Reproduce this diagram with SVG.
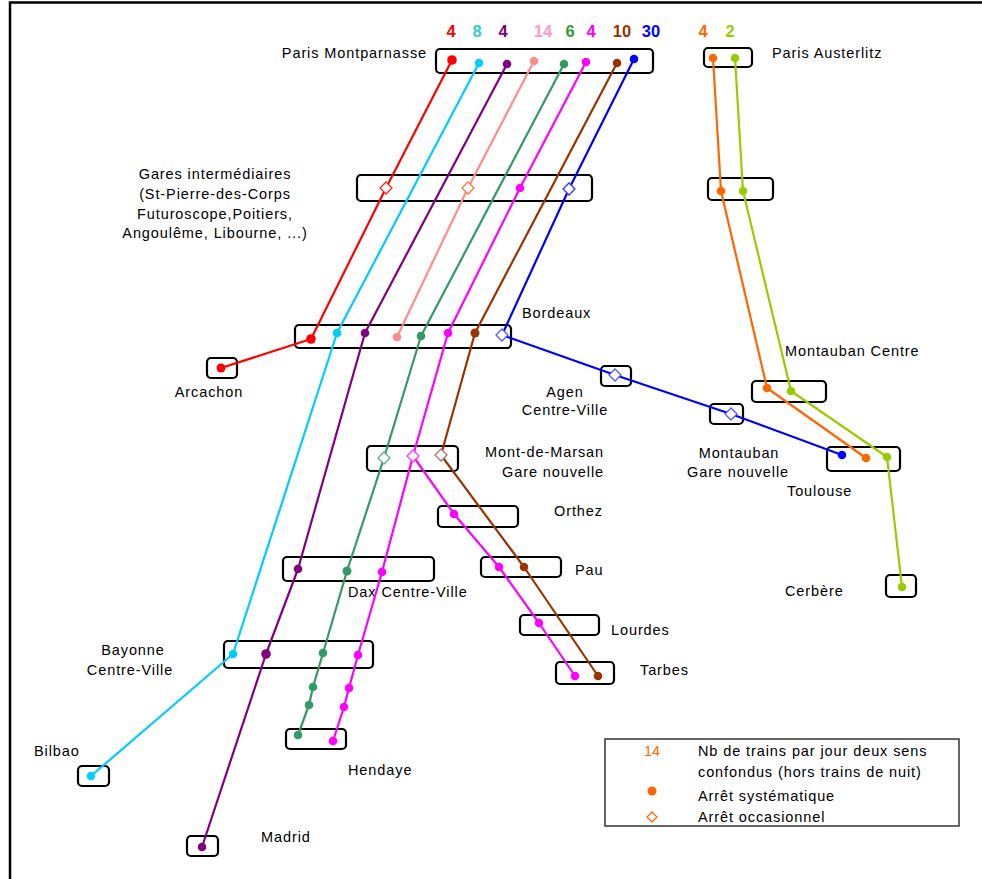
<svg xmlns="http://www.w3.org/2000/svg" xmlns:xlink="http://www.w3.org/1999/xlink" width="982" height="879" viewBox="0 0 982 879">
<style>
text{font-family:"Liberation Sans",Arial,sans-serif;font-size:14.5px;letter-spacing:0.9px}
.num{font-weight:bold;font-size:16.5px;letter-spacing:0;text-anchor:middle}
.box{fill:none;stroke:#000;stroke-width:2.2}
.ln{fill:none;stroke-width:2.2;stroke-linejoin:round}
.dia{fill:#fff;stroke-width:1.3}
.mid{text-anchor:middle}
.end{text-anchor:end}
</style>
<defs>
<path id="dia" d="M0,-6 L6,0 L0,6 L-6,0Z"/>
</defs>
<rect width="982" height="879" fill="#fff"/>
<path d="M10,879 V2.5 H982" fill="none" stroke="#000" stroke-width="2.5"/>

<g id="counts">
<text class="num" x="451" y="37" fill="#ff0000">4</text>
<text class="num" x="477" y="37" fill="#33cccc">8</text>
<text class="num" x="503" y="37" fill="#800080">4</text>
<text class="num" x="543" y="37" fill="#ff99cc">14</text>
<text class="num" x="570" y="37" fill="#339933">6</text>
<text class="num" x="591" y="37" fill="#ff00ff">4</text>
<text class="num" x="622" y="37" fill="#993300">10</text>
<text class="num" x="651" y="37" fill="#0000ff">30</text>
<text class="num" x="703" y="37" fill="#ff6600">4</text>
<text class="num" x="730" y="37" fill="#99cc00">2</text>
</g>

<g id="n-montparnasse"><rect class="box" x="436" y="49" width="217" height="24" rx="4"/><text class="end" x="427" y="58">Paris Montparnasse</text></g>
<g id="n-austerlitz"><rect class="box" x="704" y="48" width="48" height="19" rx="4"/><text x="772" y="58">Paris Austerlitz</text></g>
<g id="n-gares"><rect class="box" x="357" y="175" width="235" height="26" rx="4"/>
<text class="mid" x="215" y="179">Gares intermédiaires</text>
<text class="mid" x="215" y="199">(St-Pierre-des-Corps</text>
<text class="mid" x="215" y="218.5">Futuroscope,Poitiers,</text>
<text class="mid" x="215" y="238">Angoulême, Libourne, ...)</text></g>
<g id="n-austerlitz-inter"><rect class="box" x="708" y="178" width="65" height="22" rx="4"/></g>
<g id="n-bordeaux"><rect class="box" x="295" y="325" width="216" height="23" rx="4"/><text x="522" y="318">Bordeaux</text></g>
<g id="n-arcachon"><rect class="box" x="207" y="358" width="30" height="20" rx="4"/><text class="mid" x="209" y="397">Arcachon</text></g>
<g id="n-agen"><rect class="box" x="601" y="366" width="30" height="20" rx="4"/><text class="mid" x="565" y="397">Agen</text><text class="mid" x="565" y="415">Centre-Ville</text></g>
<g id="n-montauban-gn"><rect class="box" x="710" y="404" width="33" height="20" rx="4"/><text class="mid" x="739" y="458">Montauban</text><text class="mid" x="738" y="477">Gare nouvelle</text></g>
<g id="n-montauban-centre"><rect class="box" x="752" y="381" width="74" height="21" rx="4"/><text x="785" y="356">Montauban Centre</text></g>
<g id="n-toulouse"><rect class="box" x="827" y="447" width="73" height="24" rx="4"/><text x="787" y="496">Toulouse</text></g>
<g id="n-cerbere"><rect class="box" x="886" y="575" width="30" height="22" rx="4"/><text x="785" y="596">Cerbère</text></g>
<g id="n-montdemarsan"><rect class="box" x="367" y="446" width="91" height="25" rx="4"/><text class="end" x="604" y="457">Mont-de-Marsan</text><text class="end" x="604" y="477">Gare nouvelle</text></g>
<g id="n-orthez"><rect class="box" x="438" y="506" width="80" height="21" rx="4"/><text x="554" y="516">Orthez</text></g>
<g id="n-pau"><rect class="box" x="481" y="557" width="80" height="20" rx="4"/><text x="575" y="575">Pau</text></g>
<g id="n-lourdes"><rect class="box" x="520" y="615" width="79" height="20" rx="4"/><text x="611" y="635">Lourdes</text></g>
<g id="n-tarbes"><rect class="box" x="556" y="662" width="58" height="22" rx="4"/><text x="640" y="675">Tarbes</text></g>
<g id="n-dax"><rect class="box" x="283" y="557" width="151" height="24" rx="4"/><text x="348" y="597">Dax Centre-Ville</text></g>
<g id="n-bayonne"><rect class="box" x="224" y="641" width="149" height="27" rx="4"/><text class="mid" x="133" y="655">Bayonne</text><text class="mid" x="130" y="675">Centre-Ville</text></g>
<g id="n-hendaye"><rect class="box" x="286" y="729" width="60" height="20" rx="4"/><text x="348" y="775">Hendaye</text></g>
<g id="n-bilbao"><rect class="box" x="78" y="766" width="31" height="20" rx="4"/><text x="34" y="756">Bilbao</text></g>
<g id="n-madrid"><rect class="box" x="187" y="836" width="31" height="20" rx="4"/><text x="261" y="842">Madrid</text></g>

<g id="connectors">
<polyline class="ln" stroke="#ff0000" points="452,60 386,188 311,339 221,368"/>
<polyline class="ln" stroke="#00ccff" points="479,63 337,333 233,654 91,776"/>
<polyline class="ln" stroke="#800080" points="507,64 365,333 298,569 266,654 202,847"/>
<polyline class="ln" stroke="#ff8c8c" points="534,61 468,188 397,337"/>
<polyline class="ln" stroke="#339966" points="564,64 421,336 384,458 347,571 323,653 313,687 309,705 298,735"/>
<polyline class="ln" stroke="#ff00ff" points="586,62 520,188 448,333 413,456 382,572 358,655 349,688 344,707 333,741"/>
<polyline class="ln" stroke="#ff00ff" points="413,456 454,514 499,567 539,623 575,676"/>
<polyline class="ln" stroke="#993300" points="617,63 475,333 441,455 524,567 598,676"/>
<polyline class="ln" stroke="#0000ff" points="634,59 569,189 502,335 615,375 731,414 842,455"/>
<polyline class="ln" stroke="#ff6600" points="713,58 721,191 767,388 866,458"/>
<polyline class="ln" stroke="#99cc00" points="735,58 743,191 791,391 887,457 902,587"/>
</g>

<g id="stops">
<g fill="#ff0000"><circle cx="452" cy="60" r="4.8"/><circle cx="311" cy="339" r="4.8"/><circle cx="221" cy="368" r="4.5"/></g>
<g fill="#00ccff"><circle cx="479" cy="63" r="4.3"/><circle cx="337" cy="333" r="4.3"/><circle cx="233" cy="654" r="4.3"/><circle cx="91" cy="776" r="4.3"/></g>
<g fill="#800080"><circle cx="507" cy="64" r="4.3"/><circle cx="365" cy="333" r="4.3"/><circle cx="298" cy="569" r="4.3"/><circle cx="266" cy="654" r="4.8"/><circle cx="202" cy="847" r="4.3"/></g>
<g fill="#ff8c8c"><circle cx="534" cy="61" r="4.3"/><circle cx="397" cy="337" r="4.3"/></g>
<g fill="#339966"><circle cx="564" cy="64" r="4.3"/><circle cx="421" cy="336" r="4.3"/><circle cx="347" cy="571" r="4.5"/><circle cx="323" cy="653" r="4.3"/><circle cx="313" cy="687" r="4.3"/><circle cx="309" cy="705" r="4.3"/><circle cx="298" cy="735" r="4.3"/></g>
<g fill="#ff00ff"><circle cx="586" cy="62" r="4.3"/><circle cx="520" cy="188" r="4.3"/><circle cx="448" cy="333" r="4.3"/><circle cx="382" cy="572" r="4.3"/><circle cx="358" cy="655" r="4.3"/><circle cx="349" cy="688" r="4.3"/><circle cx="344" cy="707" r="4.3"/><circle cx="333" cy="741" r="4.3"/><circle cx="454" cy="514" r="4.3"/><circle cx="499" cy="567" r="4.3"/><circle cx="539" cy="623" r="4.3"/><circle cx="575" cy="676" r="4.3"/></g>
<g fill="#993300"><circle cx="617" cy="63" r="4.3"/><circle cx="475" cy="333" r="4.5"/><circle cx="524" cy="567" r="4.3"/><circle cx="598" cy="676" r="4.3"/></g>
<g fill="#0000ff"><circle cx="634" cy="59" r="4.3"/><circle cx="842" cy="455" r="4.3"/></g>
<g fill="#ff6600"><circle cx="713" cy="58" r="4.3"/><circle cx="721" cy="191" r="4.3"/><circle cx="767" cy="388" r="4.3"/><circle cx="866" cy="458" r="4.3"/></g>
<g fill="#99cc00"><circle cx="735" cy="58" r="4.3"/><circle cx="743" cy="191" r="4.3"/><circle cx="791" cy="391" r="4.3"/><circle cx="887" cy="457" r="4.3"/><circle cx="902" cy="587" r="4.3"/></g>
<use href="#dia" xlink:href="#dia" class="dia" stroke="#ff2020" x="386" y="188"/>
<use href="#dia" xlink:href="#dia" class="dia" stroke="#f07830" x="468" y="188"/>
<use href="#dia" xlink:href="#dia" class="dia" stroke="#3333ff" x="569" y="189"/>
<use href="#dia" xlink:href="#dia" class="dia" stroke="#5555ff" x="502" y="335"/>
<use href="#dia" xlink:href="#dia" class="dia" stroke="#5555ff" x="615" y="375"/>
<use href="#dia" xlink:href="#dia" class="dia" stroke="#5555ff" x="731" y="414"/>
<use href="#dia" xlink:href="#dia" class="dia" stroke="#5fae86" x="384" y="458"/>
<use href="#dia" xlink:href="#dia" class="dia" stroke="#ff33ff" x="413" y="456"/>
<use href="#dia" xlink:href="#dia" class="dia" stroke="#b07070" x="441" y="455"/>
</g>

<g id="legend">
<rect x="605" y="739" width="354" height="87" fill="none" stroke="#333" stroke-width="1.5"/>
<text class="mid" x="652" y="756" fill="#ff6600" style="letter-spacing:0">14</text>
<text x="698" y="756">Nb de trains par jour deux sens</text>
<text x="698" y="777">confondus (hors trains de nuit)</text>
<circle cx="652" cy="791" r="4.5" fill="#ff6600"/>
<text x="698" y="801">Arrêt systématique</text>
<path class="dia" stroke="#ff6600" d="M652,812 L657,817 L652,822 L647,817Z"/>
<text x="698" y="822">Arrêt occasionnel</text>
</g>
</svg>
